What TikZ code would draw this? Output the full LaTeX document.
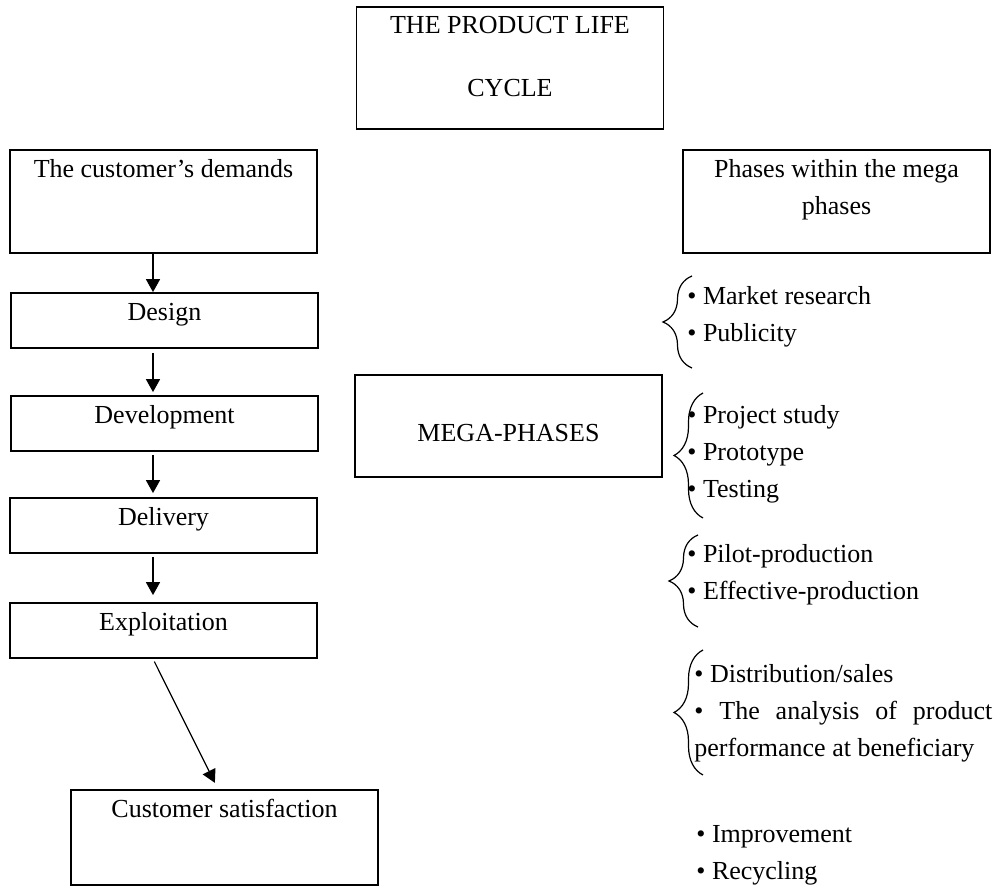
\documentclass[tikz,border=0pt]{standalone}
\usepackage{fontspec}
\setmainfont{Liberation Serif}
\usetikzlibrary{arrows.meta,decorations.pathreplacing}

\begin{document}
\begin{tikzpicture}[x=0.5pt, y=0.5pt,
  every node/.style={font=\fontsize{13}{18.5}\selectfont},
  box/.style={draw, line width=0.9pt, inner sep=0pt, minimum width=153.5pt},
  stage/.style={box, text height=14pt, text depth=13.5pt, anchor=base},
  list/.style={align=left, inner sep=0pt, anchor=base west},
  arr/.style={-{Triangle[length=6.5pt,width=7pt]}, line width=0.8pt},
  curly/.style={decorate, decoration={brace, amplitude=14.5pt}, line width=0.6pt}]
  \useasboundingbox (0,0) rectangle (998,-886);

  % boxes
  \node (title) at (510,-97) [box, align=center, text height=45pt, text depth=16pt, anchor=base] {THE PRODUCT LIFE\\[13pt]CYCLE};
  \node (demands) at (163.5,-178) [box, text height=14pt, text depth=37.5pt, anchor=base] {The customer’s demands};
  \node (design) at (164.5,-321) [stage] {Design};
  \node (development) at (164.5,-424) [stage] {Development};
  \node (delivery) at (163.5,-526) [stage] {Delivery};
  \node (exploitation) at (163.5,-631) [stage] {Exploitation};
  \node (satisfaction) at (224.5,-818) [box, text height=14pt, text depth=33.5pt, anchor=base] {Customer satisfaction};
  \node (mega) at (508.5,-442) [box, text height=33.5pt, text depth=17.5pt, anchor=base] {MEGA-PHASES};
  \node (phases) at (836.5,-215) [box, align=center, text height=32.5pt, text depth=19pt, anchor=base] {Phases within the mega\\phases};

  % phases lists (base = last line)
  \node (market) at (687,-342) [list] {• Market research\\• Publicity};
  \node (project) at (687,-498) [list] {• Project study\\• Prototype\\• Testing};
  \node (pilot) at (687,-600) [list] {• Pilot-production\\• Effective-production};
  \node (distribution) at (694,-757) [list] {• Distribution/sales\\\makebox[149pt][s]{• The analysis of product}\\performance at beneficiary};
  \node (improvement) at (696,-880) [list] {• Improvement\\• Recycling};

  % braces
  \draw[curly] (692,-368) -- (692,-276);
  \draw[curly] (703,-518) -- (703,-393);
  \draw[curly] (698,-627) -- (698,-535);
  \draw[curly] (703,-775) -- (703,-650);

  % arrows
  \coordinate (col) at (153,0);
  \draw[arr] (demands.south -| col) to (design.north -| col);
  \draw[arr, shorten <=2pt, shorten >=1.5pt] (design.south -| col) to (development.north -| col);
  \draw[arr, shorten <=1.5pt, shorten >=2pt] (development.south -| col) to (delivery.north -| col);
  \draw[arr, shorten <=1.5pt, shorten >=3.5pt] (delivery.south -| col) to (exploitation.north -| col);
  \draw[arr, line width=0.6pt, shorten <=1.5pt, shorten >=3.5pt] (exploitation.south -| col) to ([xshift=-3.25pt]satisfaction.north);
\end{tikzpicture}
\end{document}
